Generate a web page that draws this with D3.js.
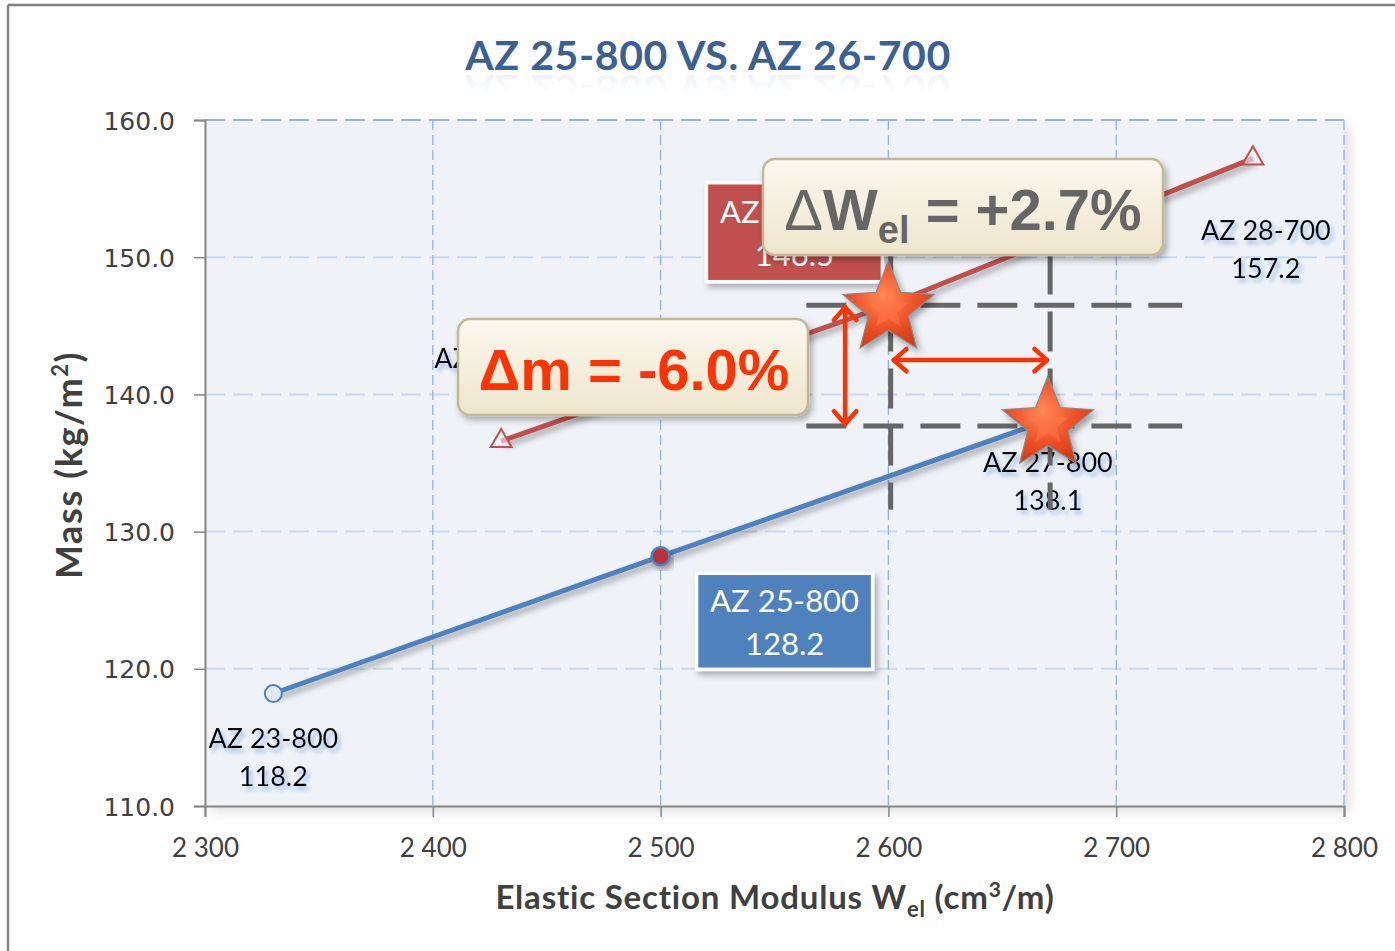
<!DOCTYPE html>
<html>
<head>
<meta charset="utf-8">
<script src="https://cdn.jsdelivr.net/npm/d3@7"></script>
<style>
  html, body { margin: 0; padding: 0; background: #fff; }
  svg { display: block; }
</style>
</head>
<body>
<svg id="chart" width="1395" height="951"></svg>
<script>
// ---------------- DATA ----------------
const titleText = "AZ 25-800 VS. AZ 26-700";
const names800 = ["AZ 23-800", "AZ 25-800", "AZ 27-800"];
const wel800   = [2330, 2500, 2670];
const mass800  = [118.2, 128.2, 138.1];
const names700 = ["AZ 24-700", "AZ 26-700", "AZ 28-700"];
const wel700   = [2430, 2600, 2760];
const mass700  = [136.6, 146.5, 157.2];
const xTicks = [2300, 2400, 2500, 2600, 2700, 2800];
const yTicks = [110, 120, 130, 140, 150, 160];
// annotation guides (data space)
const guideWel  = [2601, 2671];
const guideMass = [146.5, 137.7];
const guideWelSpan  = [2564, 2729];
const guideMassSpan = [131.6, 150.2];
const arrowWelAt  = 2581;
const arrowMassAt = 142.5;
const deltaWText = ["Δ", "W", "el", " = +2.7%"];
const deltaMText = "Δm = -6.0%";

// ---------------- LAYOUT ----------------
const W = 1395, H = 951;
const plot = { left: 205, right: 1344, top: 120, bottom: 806 };
const svg = d3.select("#chart");
const defs = svg.append("defs");

const x = d3.scaleLinear().domain([2300, 2800]).range([plot.left, plot.right]);
const y = d3.scaleLinear().domain([110, 160]).range([plot.bottom, plot.top]);

const loc = d3.formatLocale({ decimal: ".", thousands: " ", grouping: [3], currency: ["", ""] });
const fmtX = loc.format(",");
const fmtY = d3.format(".1f");

// filters
const sh = defs.append("filter").attr("id", "lineShadow").attr("x", "-10%").attr("y", "-10%").attr("width", "130%").attr("height", "140%");
sh.append("feDropShadow").attr("dx", 3).attr("dy", 4).attr("stdDeviation", 3).attr("flood-color", "#000").attr("flood-opacity", 0.35);

const boxSh = defs.append("filter").attr("id", "boxShadow").attr("x", "-10%").attr("y", "-10%").attr("width", "130%").attr("height", "140%");
boxSh.append("feDropShadow").attr("dx", 3).attr("dy", 4).attr("stdDeviation", 3).attr("flood-color", "#000").attr("flood-opacity", 0.3);

const glow = defs.append("filter").attr("id", "glow").attr("x", "-20%").attr("y", "-30%").attr("width", "140%").attr("height", "170%");
glow.append("feFlood").attr("flood-color", "#7FA6DA").attr("flood-opacity", 0.75).attr("result", "f");
glow.append("feComposite").attr("in", "f").attr("in2", "SourceAlpha").attr("operator", "in").attr("result", "c");
glow.append("feGaussianBlur").attr("in", "c").attr("stdDeviation", 2).attr("result", "b");
glow.append("feOffset").attr("in", "b").attr("dx", 3).attr("dy", 4).attr("result", "o");
const gm = glow.append("feMerge");
gm.append("feMergeNode").attr("in", "o");
gm.append("feMergeNode").attr("in", "SourceGraphic");

const plotSh = defs.append("filter").attr("id", "plotShadow").attr("x", "-5%").attr("y", "-5%").attr("width", "115%").attr("height", "115%");
plotSh.append("feDropShadow").attr("dx", 6).attr("dy", 6).attr("stdDeviation", 6).attr("flood-color", "#000").attr("flood-opacity", 0.12);

// gradients
const cream = defs.append("linearGradient").attr("id", "cream").attr("x1", 0).attr("y1", 0).attr("x2", 0).attr("y2", 1);
cream.append("stop").attr("offset", "0%").attr("stop-color", "#FBF8EF");
cream.append("stop").attr("offset", "100%").attr("stop-color", "#EFE5CC");

const starG = defs.append("radialGradient").attr("id", "starGrad").attr("cx", "45%").attr("cy", "40%").attr("r", "60%");
starG.append("stop").attr("offset", "0%").attr("stop-color", "#FF8A5A");
starG.append("stop").attr("offset", "55%").attr("stop-color", "#F0552A");
starG.append("stop").attr("offset", "100%").attr("stop-color", "#D63A14");

const refl = defs.append("linearGradient").attr("id", "refl").attr("x1", 0).attr("y1", 0).attr("x2", 0).attr("y2", 1);
refl.append("stop").attr("offset", "0%").attr("stop-color", "#3A6094").attr("stop-opacity", 0.0);
refl.append("stop").attr("offset", "45%").attr("stop-color", "#3A6094").attr("stop-opacity", 0.0);
refl.append("stop").attr("offset", "100%").attr("stop-color", "#3A6094").attr("stop-opacity", 0.13);

// page frame
svg.append("line").attr("x1", 8).attr("x2", 8).attr("y1", 5).attr("y2", H).attr("stroke", "#808080").attr("stroke-width", 2.5);
svg.append("line").attr("x1", 8).attr("x2", W).attr("y1", 5).attr("y2", 5).attr("stroke", "#808080").attr("stroke-width", 2.5);

// title
const titleFont = "Lato, 'Open Sans', sans-serif";
const tg = svg.append("g");
tg.append("text").attr("x", 708).attr("y", 70).attr("text-anchor", "middle")
  .attr("font-family", titleFont).attr("font-weight", "bold").attr("font-size", 41).attr("letter-spacing", 0.6)
  .attr("fill", "#3A6094").text(titleText);
tg.append("text").attr("x", 708).attr("y", -70).attr("transform", "scale(1,-1) translate(0,-5)")
  .attr("text-anchor", "middle")
  .attr("font-family", titleFont).attr("font-weight", "bold").attr("font-size", 41).attr("letter-spacing", 0.6)
  .attr("fill", "url(#refl)").text(titleText);

// plot area
svg.append("rect").attr("x", plot.left).attr("y", plot.top)
  .attr("width", plot.right - plot.left).attr("height", plot.bottom - plot.top)
  .attr("fill", "#EFF3F8").attr("filter", "url(#plotShadow)");

// horizontal gridlines
svg.append("g").selectAll("line").data(yTicks.filter(d => d > 110)).join("line")
  .attr("x1", plot.left).attr("x2", plot.right)
  .attr("y1", d => y(d)).attr("y2", d => y(d))
  .attr("stroke", d => d === 160 ? "#94B3E0" : "#C9DAF0")
  .attr("stroke-width", 2).attr("stroke-dasharray", "20,8");
// vertical gridlines
svg.append("g").selectAll("line").data(xTicks.filter(d => d > 2300)).join("line")
  .attr("x1", d => x(d)).attr("x2", d => x(d))
  .attr("y1", plot.top).attr("y2", plot.bottom)
  .attr("stroke", "#8DB3E2").attr("stroke-width", 1.3).attr("stroke-dasharray", "10,5");

// axes
const yAxis = d3.axisLeft(y).tickValues(yTicks).tickFormat(fmtY).tickSize(11).tickPadding(19);
const gy = svg.append("g").attr("transform", `translate(${plot.left},0)`).call(yAxis);
gy.select(".domain").attr("stroke", "#868686").attr("stroke-width", 2);
gy.selectAll(".tick line").attr("stroke", "#868686").attr("stroke-width", 1.5);
gy.selectAll(".tick text").attr("font-family", "'DejaVu Sans', Verdana, sans-serif").attr("font-size", 25)
  .attr("fill", "#404040").attr("dy", "0.36em");

const xAxis = d3.axisBottom(x).tickValues(xTicks).tickFormat(fmtX).tickSize(11).tickPadding(22);
const gx = svg.append("g").attr("transform", `translate(0,${plot.bottom})`).call(xAxis);
gx.select(".domain").attr("stroke", "#868686").attr("stroke-width", 2);
gx.selectAll(".tick line").attr("stroke", "#868686").attr("stroke-width", 1.5);
gx.selectAll(".tick text").attr("font-family", "Lato, 'Open Sans', sans-serif").attr("font-size", 26)
  .attr("fill", "#404040");

// axis titles
const xt = svg.append("text").attr("x", 775).attr("y", 909).attr("text-anchor", "middle")
  .attr("font-family", "Lato, 'Open Sans', sans-serif").attr("font-weight", "bold").attr("font-size", 33)
  .attr("letter-spacing", 0.8).attr("fill", "#404040");
xt.append("tspan").text("Elastic Section Modulus W");
xt.append("tspan").attr("font-size", 22).attr("dy", 8).text("el");
xt.append("tspan").attr("dy", -8).text(" (cm");
xt.append("tspan").attr("font-size", 21).attr("dy", -12).text("3");
xt.append("tspan").attr("dy", 12).text("/m)");

const yt = svg.append("text").attr("transform", "translate(82,465) rotate(-90)").attr("text-anchor", "middle")
  .attr("font-family", "Lato, 'Open Sans', sans-serif").attr("font-weight", "bold").attr("font-size", 36)
  .attr("letter-spacing", 1.6).attr("fill", "#404040");
yt.append("tspan").text("Mass (kg/m");
yt.append("tspan").attr("font-size", 22).attr("dy", -14).text("2");
yt.append("tspan").attr("dy", 14).text(")");

// series
const s800 = wel800.map((w, i) => ({ w, m: mass800[i], name: names800[i] }));
const s700 = wel700.map((w, i) => ({ w, m: mass700[i], name: names700[i] }));
const line = d3.line().x(d => x(d.w)).y(d => y(d.m));

svg.append("path").datum(s700).attr("d", line).attr("fill", "none")
  .attr("stroke", "#C0504D").attr("stroke-width", 5).attr("filter", "url(#lineShadow)");
svg.append("path").datum(s800).attr("d", line).attr("fill", "none")
  .attr("stroke", "#4F81BD").attr("stroke-width", 5).attr("filter", "url(#lineShadow)");

// markers
svg.append("circle").attr("cx", x(s800[0].w)).attr("cy", y(s800[0].m)).attr("r", 8.5)
  .attr("fill", "#E4E9F1").attr("stroke", "#4F81BD").attr("stroke-width", 2);
svg.append("circle").attr("cx", x(s800[1].w)).attr("cy", y(s800[1].m)).attr("r", 9)
  .attr("fill", "#B8303A").attr("stroke", "#4F81BD").attr("stroke-width", 2.5).attr("filter", "url(#lineShadow)");
const tri = d3.symbol().type(d3.symbolTriangle).size(190);
svg.append("g").selectAll("path").data([s700[0], s700[2]]).join("path")
  .attr("d", tri).attr("transform", d => `translate(${x(d.w)},${y(d.m)})`)
  .attr("fill", "#EEF1F6").attr("fill-opacity", 0.6).attr("stroke", "#C0504D").attr("stroke-width", 2);

// plain data labels
const lblFont = "Lato, 'Open Sans', sans-serif";
function plainLabel(d, dx, dy1, dy2) {
  const t = svg.append("text").attr("text-anchor", "middle").attr("font-family", lblFont)
    .attr("font-size", 27).attr("fill", "#000").attr("filter", "url(#glow)");
  t.append("tspan").attr("x", x(d.w) + dx).attr("y", y(d.m) + dy1).text(d.name);
  t.append("tspan").attr("x", x(d.w) + dx).attr("y", y(d.m) + dy2).text(d.m.toFixed(1));
}
plainLabel(s800[0], 0, 55, 93);
plainLabel(s800[2], 0, 52, 90);
plainLabel(s700[0], -2, -73, -35);
plainLabel(s700[2], 13, 82, 120);

// boxed labels
function boxLabel(d, cx, cy, w, h, fill) {
  const px = x(d.w) + cx, py = y(d.m) + cy;
  svg.append("rect").attr("x", px - w / 2).attr("y", py - h / 2).attr("width", w).attr("height", h)
    .attr("fill", fill).attr("stroke", "#fff").attr("stroke-width", 3.5).attr("filter", "url(#boxShadow)");
  const t = svg.append("text").attr("text-anchor", "middle").attr("font-family", lblFont)
    .attr("font-size", 31).attr("fill", "#fff");
  t.append("tspan").attr("x", px).attr("y", py - 9).text(d.name);
  t.append("tspan").attr("x", px).attr("y", py + 34).text(d.m.toFixed(1));
}
boxLabel(s700[1], -94, -73, 176, 99, "#C0504D");
boxLabel(s800[1], 124, 65, 176, 96, "#4F81BD");

// dashed guides
const guideStyle = sel => sel.attr("stroke", "#666").attr("stroke-width", 5).attr("stroke-dasharray", "40,17");
guideMass.forEach(m => {
  svg.append("line").attr("x1", x(guideWelSpan[0])).attr("x2", x(guideWelSpan[1]))
    .attr("y1", y(m)).attr("y2", y(m)).call(guideStyle);
});
guideWel.forEach(w => {
  svg.append("line").attr("x1", x(w)).attr("x2", x(w))
    .attr("y1", y(guideMassSpan[1])).attr("y2", y(guideMassSpan[0])).call(guideStyle);
});

// arrows
function dblArrow(x1, y1, x2, y2) {
  const g = svg.append("g").attr("stroke", "#FF3300").attr("stroke-width", 4.5)
    .attr("fill", "none").attr("stroke-linecap", "round").attr("stroke-linejoin", "round");
  g.append("line").attr("x1", x1).attr("y1", y1).attr("x2", x2).attr("y2", y2);
  const ang = Math.atan2(y2 - y1, x2 - x1);
  const L = 17, A = 0.72;
  [[x1, y1, ang], [x2, y2, ang + Math.PI]].forEach(([px, py, a]) => {
    const p1 = [px + L * Math.cos(a + A), py + L * Math.sin(a + A)];
    const p2 = [px + L * Math.cos(a - A), py + L * Math.sin(a - A)];
    g.append("path").attr("d", `M${p1[0]},${p1[1]}L${px},${py}L${p2[0]},${p2[1]}`);
  });
}
dblArrow(x(arrowWelAt), y(guideMass[0]) + 2, x(arrowWelAt), y(guideMass[1]) - 2);
dblArrow(x(guideWel[0]) + 3, y(arrowMassAt), x(guideWel[1]) - 3, y(arrowMassAt));

// stars on the compared sections
function starPath(R, r) {
  const pts = [];
  for (let i = 0; i < 10; i++) {
    const a = -Math.PI / 2 + i * Math.PI / 5;
    const rr = i % 2 === 0 ? R : r;
    pts.push([rr * Math.cos(a), rr * Math.sin(a)]);
  }
  return "M" + pts.map(p => p.join(",")).join("L") + "Z";
}
const stars = [s700[1], s800[2]];
const sg = svg.append("g").selectAll("g").data(stars).join("g")
  .attr("transform", d => `translate(${x(d.w)},${y(d.m) + 4})`);
sg.append("path").attr("d", starPath(48, 21)).attr("fill", "url(#starGrad)")
  .attr("stroke", "#8A8A8A").attr("stroke-width", 1.2).attr("filter", "url(#lineShadow)");
sg.append("path").attr("d", starPath(48, 21)).attr("transform", "scale(0.45)")
  .attr("fill", "#FF7A4A").attr("opacity", 0.5);

// annotation boxes
svg.append("rect").attr("x", 763).attr("y", 159).attr("width", 400).attr("height", 96).attr("rx", 12)
  .attr("fill", "url(#cream)").attr("stroke", "#C4B894").attr("stroke-width", 2.5).attr("filter", "url(#boxShadow)");
const dw = svg.append("text").attr("x", 963).attr("y", 230).attr("text-anchor", "middle")
  .attr("font-family", "'Liberation Sans', Arial, sans-serif").attr("font-weight", "bold")
  .attr("font-size", 58).attr("fill", "#666");
dw.append("tspan").attr("font-weight", "normal").text(deltaWText[0]);
dw.append("tspan").text(deltaWText[1]);
dw.append("tspan").attr("font-size", 38).attr("dy", 13).text(deltaWText[2]);
dw.append("tspan").attr("dy", -13).text(deltaWText[3]);

svg.append("rect").attr("x", 458).attr("y", 319).attr("width", 350).attr("height", 96).attr("rx", 12)
  .attr("fill", "url(#cream)").attr("stroke", "#C4B894").attr("stroke-width", 2.5).attr("filter", "url(#boxShadow)");
svg.append("text").attr("x", 634).attr("y", 390).attr("text-anchor", "middle")
  .attr("font-family", "'Liberation Sans', Arial, sans-serif").attr("font-weight", "bold")
  .attr("font-size", 58).attr("fill", "#FF3300").text(deltaMText);
</script>
</body>
</html>
